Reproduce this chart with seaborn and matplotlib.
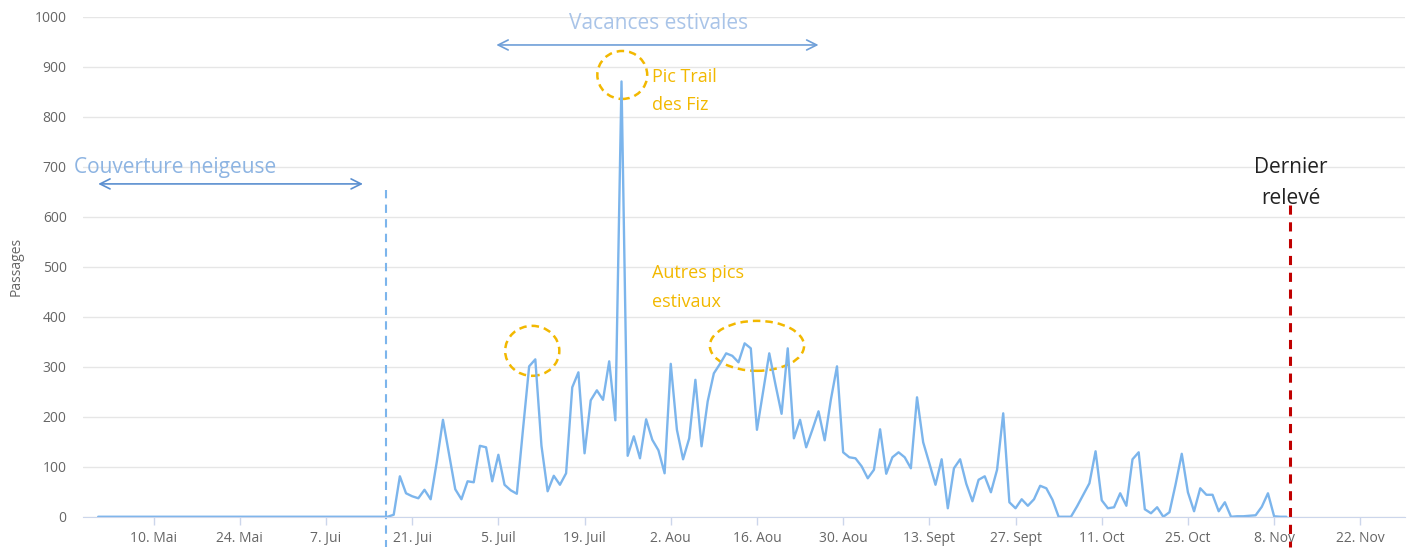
import pandas as pd
import numpy as np
import seaborn as sns
import matplotlib.pyplot as plt
import matplotlib.dates as mdates
from matplotlib.patches import Ellipse

# data: daily counts from 1 May 2021
start_date = "2021-05-01"
snow_period = [0, 0, 0, 0, 0, 0, 0, 0, 0, 0, 0, 0, 0, 0, 0, 0,
               0, 0, 0, 0, 0, 0, 0, 0, 0, 0, 0, 0, 0, 0, 0, 0,
               0, 0, 0, 0, 0, 0, 0, 0, 0, 0, 0, 0, 0, 0, 0, 0]
june_july = [4, 81, 47, 41, 37, 54, 35, 110, 194, 125, 55, 35, 71, 69, 142,
             139, 71, 124, 64, 53, 46, 175, 301, 315, 142, 51, 82, 64, 87, 259,
             289, 127, 233, 253, 234, 311, 193, 871, 122, 161, 117, 195, 154, 133]
august = [87, 306, 174, 115, 157, 274, 141, 231, 287, 306, 327, 322, 309, 347,
          337, 174, 250, 327, 265, 206, 337, 157, 194, 139, 174, 211, 153, 234,
          301, 129, 119]
september = [117, 101, 77, 94, 175, 86, 119, 129, 119, 97, 239, 149, 107, 64,
             115, 17, 97, 115, 66, 31, 74, 81, 49, 94, 207, 29, 17, 35, 22, 35]
october_november = [62, 57, 34, 0, 0, 0, 21, 44, 67, 131, 33, 17, 19, 47, 22,
                    115, 129, 15, 7, 19, 0, 9, 65, 126, 49, 11, 57, 44, 44, 11,
                    29, 0, 1, 1, 2, 3, 20, 47, 1, 0, 0]

tick_dates = ["2021-05-10", "2021-05-24", "2021-06-07", "2021-06-21", "2021-07-05",
              "2021-07-19", "2021-08-02", "2021-08-16", "2021-08-30", "2021-09-13",
              "2021-09-27", "2021-10-11", "2021-10-25", "2021-11-08", "2021-11-22"]
tick_labels = ["10. Mai", "24. Mai", "7. Jui", "21. Jui", "5. Juil", "19. Juil",
               "2. Aou", "16. Aou", "30. Aou", "13. Sept", "27. Sept", "11. Oct",
               "25. Oct", "8. Nov", "22. Nov"]

passages = snow_period + june_july + august + september + october_november
df = pd.DataFrame({"date": pd.date_range(start_date, periods=len(passages), freq="D"),
                   "passages": passages})

sns.set_style("white")
plt.rcParams["font.family"] = ["Open Sans", "DejaVu Sans"]

fig = plt.figure(figsize=(14.12, 5.48), dpi=100)
ax = fig.add_axes([0.059, 0.057, 0.936, 0.912])

sns.lineplot(data=df, x="date", y="passages", color="#7cb5ec", linewidth=1.7, ax=ax)

d = lambda s: mdates.date2num(pd.Timestamp(s))

ax.set_xlim(d("2021-04-28 14:00"), d("2021-11-29 06:00"))
ax.set_ylim(0, 1000)
ax.set_yticks(range(0, 1001, 100))
ax.yaxis.grid(True, color="#e6e6e6", linewidth=1)
ax.set_xticks([d(t) for t in tick_dates])
ax.set_xticklabels(tick_labels)
ax.tick_params(axis="x", colors="#ccd6eb", length=6, width=1, labelcolor="#666666",
               labelsize=10, pad=4, direction="out", bottom=True)
ax.tick_params(axis="y", length=0, labelcolor="#666666", labelsize=10, pad=12)
for side in ["top", "right", "left"]:
    ax.spines[side].set_visible(False)
ax.spines["bottom"].set_color("#ccd6eb")
ax.set_xlabel("")
ax.set_ylabel("Passages", color="#666666", fontsize=10, labelpad=8)

# snow cover
ax.annotate("", xy=(d("2021-05-01"), 666), xytext=(d("2021-06-13"), 666),
            arrowprops=dict(arrowstyle="<->", color="#5b8fd0", lw=1.2,
                            mutation_scale=18, shrinkA=0, shrinkB=0))
ax.text(d("2021-04-27"), 698, "Couverture neigeuse", color="#8db4e2", fontsize=15,
        ha="left", va="center")
ax.plot([d("2021-06-16 18:00")] * 2, [654, -60], color="#7cb5ec", lw=1.5,
        linestyle=(0, (4, 3)), clip_on=False)

# summer holidays
ax.annotate("", xy=(d("2021-07-04 16:00"), 944), xytext=(d("2021-08-26"), 944),
            arrowprops=dict(arrowstyle="<->", color="#6f9fd8", lw=1.2,
                            mutation_scale=18, shrinkA=0, shrinkB=0))
ax.text(d("2021-07-31"), 986, "Vacances estivales", color="#a9c4e8", fontsize=15,
        ha="center", va="center")

# peaks
gold = "#f2b800"
for cx, cy, w, h in [("2021-07-25 03:00", 884, 8.1, 96),
                     ("2021-07-10 12:00", 332, 8.8, 100),
                     ("2021-08-16", 342, 15.3, 100)]:
    ax.add_patch(Ellipse((d(cx), cy), w, h, fill=False, edgecolor=gold, lw=1.8,
                         linestyle=(0, (3, 2))))
ax.text(d("2021-07-30 00:00"), 852, "Pic Trail\ndes Fiz", color=gold, fontsize=13,
        ha="left", va="center", linespacing=1.75)
ax.text(d("2021-07-30 00:00"), 459, "Autres pics\nestivaux", color=gold, fontsize=13,
        ha="left", va="center", linespacing=1.75)

# last reading
ax.plot([d("2021-11-10 12:00")] * 2, [624, -60], color="#c00000", lw=2.2,
        linestyle=(0, (3, 2.5)), clip_on=False)
ax.text(d("2021-11-10 18:00"), 668, "Dernier\nrelevé", color="#222222", fontsize=15,
        ha="center", va="center", linespacing=1.6)

fig.savefig("out.png", dpi=100)
